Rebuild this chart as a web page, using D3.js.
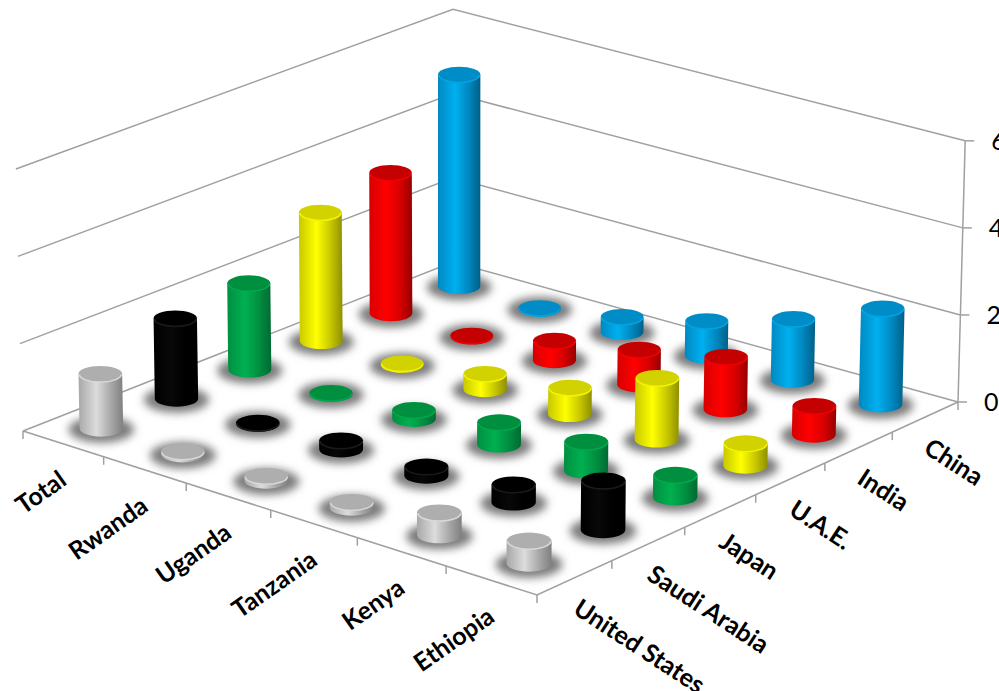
<!DOCTYPE html>
<html>
<head>
<meta charset="utf-8">
<script src="https://cdn.jsdelivr.net/npm/d3@7"></script>
<style>
  html, body { margin: 0; padding: 0; background: #fff; overflow: hidden; }
  text { font-family: Lato, "Open Sans", sans-serif; fill: #000; }
</style>
</head>
<body>
<div id="chart"></div>
<script>
// categories run along the front-left edge, series go from front to back
let categories = ['Total', 'Rwanda', 'Uganda', 'Tanzania', 'Kenya', 'Ethiopia'];
let seriesNames = ['United States', 'Saudi Arabia', 'Japan', 'U.A.E.', 'India', 'China'];
let valueTicks = [0, 2, 4, 6];

let unitedStates = [1.25, 0.06, 0.1, 0.12, 0.5, 0.5];
let saudiArabia = [1.85, 0.02, 0.2, 0.2, 0.4, 1.1];
let japan = [2.0, 0.02, 0.2, 0.5, 0.65, 0.5];
let uae = [3.0, 0.03, 0.35, 0.6, 1.4, 0.5];
let india = [3.3, 0.02, 0.45, 0.8, 1.2, 0.65];
let china = [5.0, 0.02, 0.35, 0.8, 1.4, 2.2];
let allSeries = [unitedStates, saudiArabia, japan, uae, india, china];

// side, light, dark, top
let seriesColors = [
  ['#a8a8a8', '#dcdcdc', '#808080', '#aeaeae'],
  ['#000000', '#080808', '#000000', '#000000'],
  ['#008f40', '#00b050', '#006a32', '#008f3e'],
  ['#c8c800', '#ffff00', '#8f8f00', '#d2d200'],
  ['#d80000', '#ff0000', '#960000', '#c40000'],
  ['#0088c0', '#00b0f0', '#005f88', '#008cc6']
];
let rimColors = ['#d8d8d8', '#1a1a1a', '#00a84c', '#f4f400', '#f00000', '#00a4e0'];

let width = 999, height = 691;

let svg = d3.select('#chart').append('svg')
  .attr('width', width)
  .attr('height', height);

let defs = svg.append('defs');
defs.append('filter').attr('id', 'soft')
  .attr('x', '-40%').attr('y', '-60%').attr('width', '180%').attr('height', '220%')
  .append('feGaussianBlur').attr('stdDeviation', 4.5);

seriesColors.forEach((c, i) => {
  let g = defs.append('linearGradient').attr('id', 'side' + i);
  g.append('stop').attr('offset', '0%').attr('stop-color', c[0]);
  g.append('stop').attr('offset', '40%').attr('stop-color', c[1]);
  g.append('stop').attr('offset', '72%').attr('stop-color', c[0]);
  g.append('stop').attr('offset', '100%').attr('stop-color', c[2]);
});

// floor corners
let L = [23, 431], F = [537, 595], R = [958, 402], B = [453, 262];

// perspective map of the unit square onto the floor
let dx1 = F[0] - R[0], dx2 = B[0] - R[0], sx = L[0] - F[0] + R[0] - B[0];
let dy1 = F[1] - R[1], dy2 = B[1] - R[1], sy = L[1] - F[1] + R[1] - B[1];
let det = dx1 * dy2 - dx2 * dy1;
let pg = (sx * dy2 - dx2 * sy) / det;
let ph = (dx1 * sy - sx * dy1) / det;
let pa = F[0] - L[0] + pg * F[0], pb = B[0] - L[0] + ph * B[0];
let pd = F[1] - L[1] + pg * F[1], pe = B[1] - L[1] + ph * B[1];

function floorPoint(u, v) {
  let w = pg * u + ph * v + 1;
  return [(pa * u + pb * v + L[0]) / w, (pd * u + pe * v + L[1]) / w];
}

let catBand = d3.scaleBand().domain(categories).range([0, 1]);
let serBand = d3.scaleBand().domain(seriesNames).range([0, 1]);

// pixels per unit of value at a floor position
let valueScale = d3.scaleLinear().domain([0, 6]).range([0, 262]);
function heightAt(u, v, val) {
  return valueScale(val) / Math.sqrt(pg * u + ph * v + 1);
}
// walls and bars lean out a bit away from the centre
function leanAt(x, val) {
  return (x - 453) / 505 * 1.2 * val;
}

function lift(u, v, val) {
  let p = floorPoint(u, v);
  return [p[0] + leanAt(p[0], val), p[1] - heightAt(u, v, val)];
}

let gridColor = '#a0a0a0';
let grid = svg.append('g')
  .attr('fill', 'none')
  .attr('stroke', gridColor)
  .attr('stroke-width', 1.5);
let line = d3.line();

// wall lines
valueTicks.forEach(t => {
  let left = lift(0, 0, t), back = lift(0, 1, t), right = lift(1, 1, t);
  if (t > 0) left[0] -= 1;
  grid.append('path').attr('d', line([left, back, right]));
  grid.append('line')
    .attr('x1', right[0]).attr('y1', right[1])
    .attr('x2', right[0] + 9).attr('y2', right[1]);
  svg.append('text')
    .attr('x', right[0] + 26).attr('y', right[1] + 9)
    .attr('font-size', 25)
    .text(t);
});
grid.append('path').attr('d', line([lift(1, 1, 0), lift(1, 1, 6)]));

// floor front edges and ticks
grid.append('path').attr('d', line([L, F, R]));
d3.range(0, 7).forEach(i => {
  let p = floorPoint(i / 6, 0);
  grid.append('line').attr('x1', p[0]).attr('y1', p[1]).attr('x2', p[0]).attr('y2', p[1] + 8);
  if (i > 0) {
    let q = floorPoint(1, i / 6);
    grid.append('line').attr('x1', q[0]).attr('y1', q[1]).attr('x2', q[0]).attr('y2', q[1] + 8);
  }
});

// bars, far ones first
let bars = [];
allSeries.forEach((vals, s) => {
  vals.forEach((val, c) => {
    let u = catBand(categories[c]) + catBand.bandwidth() / 2;
    let v = serBand(seriesNames[s]) + serBand.bandwidth() / 2;
    let base = floorPoint(u, v);
    let top = lift(u, v, val);
    let unit = heightAt(u, v, 1);
    bars.push({ s: s, c: c, base: base, top: top, rx: unit * 0.5, ry: unit * 0.5 * 0.37 });
  });
});
bars.sort((a, b) => a.base[1] - b.base[1]);

// shadows go below all the bars
svg.append('g').selectAll('ellipse')
  .data(bars)
  .enter()
  .append('ellipse')
  .attr('cx', d => d.base[0])
  .attr('cy', d => d.base[1] + 1)
  .attr('rx', d => d.rx + 11)
  .attr('ry', d => d.ry + 5)
  .attr('fill', '#7c7c7c')
  .attr('filter', 'url(#soft)');

let barG = svg.append('g').selectAll('g')
  .data(bars)
  .enter()
  .append('g');

barG.append('path')
  .attr('fill', d => 'url(#side' + d.s + ')')
  .attr('d', d => 'M' + (d.top[0] - d.rx) + ',' + d.top[1]
    + 'L' + (d.base[0] - d.rx) + ',' + d.base[1]
    + 'A' + d.rx + ',' + d.ry + ' 0 0 0 ' + (d.base[0] + d.rx) + ',' + d.base[1]
    + 'L' + (d.top[0] + d.rx) + ',' + d.top[1]
    + 'A' + d.rx + ',' + d.ry + ' 0 0 1 ' + (d.top[0] - d.rx) + ',' + d.top[1] + 'Z');

barG.append('ellipse')
  .attr('cx', d => d.top[0])
  .attr('cy', d => d.top[1])
  .attr('rx', d => d.rx)
  .attr('ry', d => d.ry)
  .attr('fill', d => seriesColors[d.s][3]);

// light rim on the front of the top face
barG.append('path')
  .attr('fill', 'none')
  .attr('stroke', d => rimColors[d.s])
  .attr('stroke-width', 1.5)
  .attr('d', d => 'M' + (d.top[0] - d.rx + 1) + ',' + (d.top[1] + 0.5)
    + 'A' + (d.rx - 1) + ',' + (d.ry - 0.5) + ' 0 0 0 ' + (d.top[0] + d.rx - 1) + ',' + (d.top[1] + 0.5));

// axis labels
categories.forEach((name, i) => {
  let p = floorPoint(catBand(name) + catBand.bandwidth() / 2, 0);
  svg.append('text')
    .attr('transform', 'translate(' + (p[0] + 5) + ',' + (p[1] + 40) + ') rotate(-35)')
    .attr('text-anchor', 'end')
    .attr('font-size', 25)
    .attr('font-weight', 700)
    .text(name);
});
seriesNames.forEach((name, i) => {
  let p = floorPoint(1, serBand(name) + serBand.bandwidth() / 2);
  svg.append('text')
    .attr('transform', 'translate(' + (p[0] - 3) + ',' + (p[1] + 35) + ') rotate(33)')
    .attr('text-anchor', 'start')
    .attr('font-size', 25)
    .attr('font-weight', 700)
    .text(name);
});
</script>
</body>
</html>
